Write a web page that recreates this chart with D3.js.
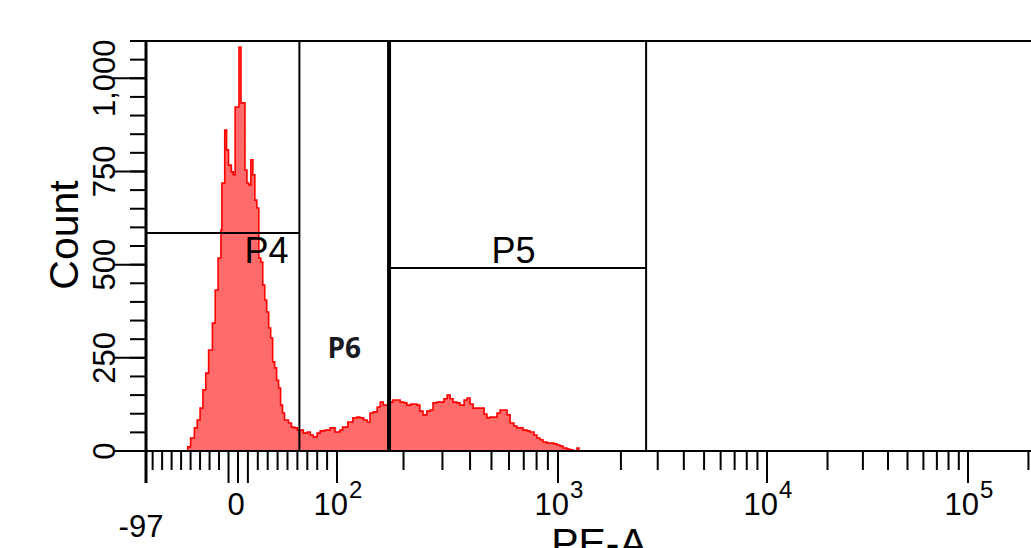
<!DOCTYPE html>
<html>
<head>
<meta charset="utf-8">
<script src="https://cdn.jsdelivr.net/npm/d3@7"></script>
<style>
  html, body { margin: 0; padding: 0; background: #fff; }
  svg { display: block; }
  text { font-family: "Liberation Sans", Arial, sans-serif; fill: #000; }
</style>
</head>
<body>
<svg id="chart" width="1031" height="548"></svg>
<script>
// ---------- data ----------
// PE-A value at the left edge of each histogram bin
const peValues = [-56,-53,-50,-46,-43,-40,-37,-34,-31,-27,-24,-21,-18,-17,-15,-14,-12,-10,-7,-5,-3,-1,
  1,3,5,7,9,11,13,15,17,19,21,23,25,27,29,31,33,35,37,39,41,43,45,47,51,54,57,60,63,66,70,73,76,80,83,88,93,98,
  103,106,112,118,123,127,132,137,141,146,152,157,162,167,172,179,187,193,201,207,216,230,237,245,255,264,272,284,292,
  305,315,325,335,349,360,376,388,400,413,430,444,463,477,492,508,530,547,570,588,607,632,652,673,694,724,747,779,803,
  829,855,892,920,959,990,1022,1057,1104,1141,1180,1233,1260];
// event count in each bin
const counts = [0,11,35,62,83,115,164,209,271,343,432,518,593,719,719,861,808,767,749,741,923,923,
  1084,934,934,754,719,714,781,741,673,652,518,507,445,405,373,330,303,239,223,190,169,123,102,83,75,64,62,56,56,48,51,43,38,48,54,56,62,51,
  56,64,78,89,91,89,83,78,102,105,118,131,123,123,131,137,137,131,129,123,126,123,107,97,107,110,129,131,131,
  140,150,140,131,129,123,137,142,126,115,115,115,99,89,91,91,102,110,110,97,75,67,62,62,56,54,51,43,35,
  30,24,21,21,19,16,13,8,5,3,0,8,0];

const yMajorTicks = [0, 250, 500, 750, 1000];
const yMinorTicks = d3.range(0, 1101, 50);
const xLinearMinorTicks = [-90,-80,-70,-60,-50,-40,-30,-20,20,30,40,50,60,70,80,90];
const xLongTicks = [-97, -10, 0, 10];
const xDecadeTicks = [100, 1000, 10000, 100000];
const xDecadeExponents = ["2", "3", "4", "5"];
const xLogMinorTicks = [200,300,400,500,600,700,800,900,2000,3000,4000,5000,6000,7000,8000,9000,
  20000,30000,40000,50000,60000,70000,80000,90000,200000];

const gateNames = ["P4", "P6", "P5"];
const gateMin = [-97, 62, 172];
const gateMax = [62, 172, 2640];
const gateLevel = [585, null, 491];

// ---------- scales ----------
const svg = d3.select("#chart");
const xLin = d3.scaleLinear().domain([-97, 0, 100]).range([146, 238, 337]);
const xLog = d3.scaleLog().domain([100, 1000, 10000, 100000, 262144]).range([337, 558, 767, 968, 1052]);
const x = v => (v <= 100 ? xLin(v) : xLog(v));
const y = d3.scaleLinear().domain([0, 1100]).range([451, 41]);

// ---------- histogram ----------
const bins = peValues.map((v, i) => ({ v, c: counts[i] }));
const area = d3.area().x(d => x(d.v)).y0(y(0)).y1(d => y(d.c)).curve(d3.curveStepAfter);
const line = d3.line().x(d => x(d.v)).y(d => y(d.c)).curve(d3.curveStepAfter);
svg.append("path").datum(bins).attr("d", area).attr("fill", "#ff6b6b");
svg.append("path").datum(bins).attr("d", line).attr("fill", "none")
  .attr("stroke", "#ff0000").attr("stroke-width", 1.6);

// ---------- frame ----------
const frame = svg.append("g").attr("stroke", "#000");
frame.append("line").attr("x1", x(-97)).attr("x2", 1031).attr("y1", y(1100)).attr("y2", y(1100)).attr("stroke-width", 2.2);
frame.append("line").attr("x1", x(-97)).attr("x2", x(-97)).attr("y1", y(1100)).attr("y2", y(0)).attr("stroke-width", 3);
frame.append("line").attr("x1", x(-97)).attr("x2", 1031).attr("y1", y(0)).attr("y2", y(0)).attr("stroke-width", 2.2);

// ---------- gates ----------
const gates = svg.append("g").attr("stroke", "#000");
gateNames.forEach((name, i) => {
  if (gateLevel[i] !== null) {
    gates.append("line").attr("x1", x(gateMin[i])).attr("x2", x(gateMax[i]))
      .attr("y1", y(gateLevel[i])).attr("y2", y(gateLevel[i])).attr("stroke-width", 2);
  }
});
// vertical gate boundaries
gates.append("line").attr("x1", x(gateMax[0]) ).attr("x2", x(gateMax[0]))
  .attr("y1", y(1100)).attr("y2", y(0)).attr("stroke-width", 2);
gates.append("line").attr("x1", x(gateMin[2])).attr("x2", x(gateMin[2]))
  .attr("y1", y(1100)).attr("y2", y(0)).attr("stroke-width", 4);
gates.append("line").attr("x1", x(gateMax[2])).attr("x2", x(gateMax[2]))
  .attr("y1", y(1100)).attr("y2", y(0)).attr("stroke-width", 2);

// gate labels
svg.append("text").attr("x", x(gateMax[0]) - 55).attr("y", y(gateLevel[0]) + 30)
  .attr("font-size", 36).text(gateNames[0]);
svg.append("text").attr("x", (x(gateMin[2]) + x(gateMax[2])) / 2 - 4).attr("y", y(gateLevel[2]) - 5)
  .attr("text-anchor", "middle").attr("font-size", 36).text(gateNames[2]);
svg.append("text").attr("x", (x(gateMin[1]) + x(gateMax[1])) / 2).attr("y", 358)
  .attr("text-anchor", "middle").attr("font-size", 28).attr("font-weight", "bold")
  .style("font-family", "'Open Sans', 'Noto Sans', sans-serif").style("fill", "#1a1a22")
  .text(gateNames[1]);

// ---------- y axis ----------
const yAx = svg.append("g");
yAx.selectAll("line.minor").data(yMinorTicks).join("line")
  .attr("x1", 130).attr("x2", 146).attr("y1", d => y(d)).attr("y2", d => y(d))
  .attr("stroke", "#000").attr("stroke-width", 2);
yAx.selectAll("line.major").data(yMajorTicks).join("line")
  .attr("x1", 113).attr("x2", 146).attr("y1", d => y(d)).attr("y2", d => y(d))
  .attr("stroke", "#000").attr("stroke-width", 2);
yAx.selectAll("text").data(yMajorTicks).join("text")
  .attr("transform", d => `translate(115,${y(d)}) rotate(-90)`)
  .attr("text-anchor", "middle").attr("font-size", 31)
  .text(d => d3.format(",")(d));
svg.append("text").attr("transform", `translate(78,235) rotate(-90)`)
  .attr("text-anchor", "middle").attr("font-size", 41).text("Count");

// ---------- x axis ----------
const xAx = svg.append("g").attr("stroke", "#000");
xAx.selectAll("line.lin").data(xLinearMinorTicks).join("line")
  .attr("x1", d => x(d)).attr("x2", d => x(d)).attr("y1", y(0)).attr("y2", 470).attr("stroke-width", 2);
xAx.selectAll("line.logm").data(xLogMinorTicks).join("line")
  .attr("x1", d => x(d)).attr("x2", d => x(d)).attr("y1", y(0)).attr("y2", 470).attr("stroke-width", 2);
xAx.selectAll("line.long").data(xLongTicks.concat(xDecadeTicks)).join("line")
  .attr("x1", d => x(d)).attr("x2", d => x(d)).attr("y1", y(0)).attr("y2", 483)
  .attr("stroke-width", d => (d === -97 ? 3 : 2));

svg.append("text").attr("x", x(-97) - 5).attr("y", 537).attr("text-anchor", "middle")
  .attr("font-size", 31).text("-97");
svg.append("text").attr("x", x(0) - 2).attr("y", 515).attr("text-anchor", "middle")
  .attr("font-size", 31).text("0");
const dec = svg.selectAll("text.dec").data(xDecadeTicks).join("text")
  .attr("class", "dec").attr("x", d => x(d) + 1).attr("y", 515).attr("text-anchor", "middle")
  .attr("font-size", 31);
dec.append("tspan").text("10");
dec.append("tspan").attr("dy", -17).attr("dx", 1).attr("font-size", 24).text((d, i) => xDecadeExponents[i]);

svg.append("text").attr("x", 599).attr("y", 557).attr("text-anchor", "middle")
  .attr("font-size", 41).text("PE-A");
</script>
</body>
</html>
